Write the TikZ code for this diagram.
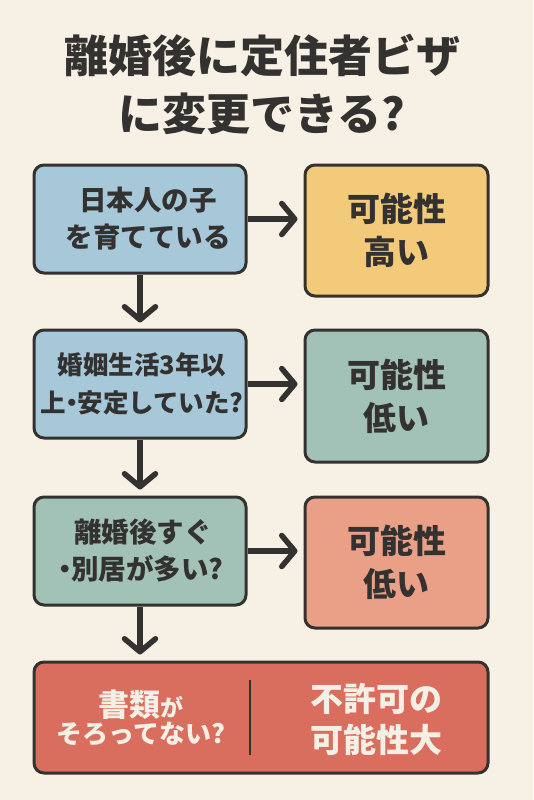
\documentclass[tikz,border=0pt]{standalone}
\usepackage{fontspec}
\newfontfamily\jp{Noto Sans CJK JP}
\usetikzlibrary{arrows.meta,calc}
\definecolor{bgc}{HTML}{F7F0E4}
\definecolor{dk}{HTML}{333230}
\definecolor{blu}{HTML}{A6C8D9}
\definecolor{yel}{HTML}{F2CA7A}
\definecolor{sag}{HTML}{A2C2B7}
\definecolor{sal}{HTML}{EAA086}
\definecolor{red4}{HTML}{D96E5F}
\definecolor{wht}{HTML}{F5F0E6}
\newcommand{\ndot}{\kern-0.27em・\kern-0.27em}
\tikzset{
  box/.style={draw=dk, line width=3pt, rounded corners=10pt, inner sep=0pt, align=center, text=dk, font=\jp\bfseries},
  qbox/.style={box, minimum width=212pt, minimum height=108pt, font=\jp\bfseries\fontsize{27.5}{37}\selectfont},
  rbox/.style={box, minimum width=183pt, minimum height=131pt, font=\jp\bfseries\fontsize{33}{43}\selectfont},
  arr/.style={draw=dk, line width=5.5pt, -{Straight Barb[length=13pt,width=31pt,line cap=round,line join=round]}, shorten >=6pt},
}
\begin{document}
\begin{tikzpicture}[x=1pt,y=-1pt]
\fill[bgc] (0,0) rectangle (533,800);
\useasboundingbox (0,0) rectangle (533,800);
\node[font=\jp\bfseries\fontsize{44}{58}\selectfont, text=dk, align=center] (title) at (262,84) {離婚後に定住者ビザ\\に変更できる?};
\node[qbox, fill=blu] (b1) at (140,219) {\hspace*{16pt}日本人の子\\\hspace*{16pt}を育てている};
\node[qbox, fill=blu, font=\jp\bfseries\fontsize{25.5}{38}\selectfont] (b2) at (140,384) {\hspace*{4pt}婚姻生活3年以\\\hspace*{4pt}上\ndot 安定していた?};
\node[rbox, fill=yel] (r1) at (396.5,230.5) {可能性\\高い};
\node[rbox, fill=sag, minimum height=132pt] (r2) at (396.5,396) {可能性\\低い};
\node[qbox, fill=sag] (b3) at (140,551) {\hspace*{6pt}離婚後すぐ\\\hspace*{2pt}\ndot 別居が多い?};
\node[rbox, fill=sal] (r3) at (396.5,562.5) {可能性\\低い};
\node[box, fill=red4, minimum width=454pt, minimum height=111pt] (b4) at (261,717.5) {};
\node[font=\jp\bfseries, text=wht, align=center] (t4l) at (141,718) {{\fontsize{31}{31}\selectfont 書類}{\fontsize{23}{23}\selectfont が}\\[2pt]{\fontsize{26}{38}\selectfont そろってない?}};
\node[font=\jp\bfseries\fontsize{33}{41}\selectfont, text=wht, align=center] (t4r) at (376,719) {不許可の\\可能性大};
\coordinate (dvt) at (250,680);
\coordinate (dvb) at (250,755);
\draw[dk, line width=2pt] (dvt) -- (dvb);
\draw[arr] (b1.east) -- (b1.east -| r1.west);
\draw[arr] (b2.east) -- (b2.east -| r2.west);
\draw[arr] (b3.east) -- (b3.east -| r3.west);
\draw[arr] (b1.south) -- (b2.north);
\draw[arr] (b2.south) -- (b3.north);
\draw[arr] (b3.south) -- (b3.south |- b4.north);
\end{tikzpicture}
\end{document}
